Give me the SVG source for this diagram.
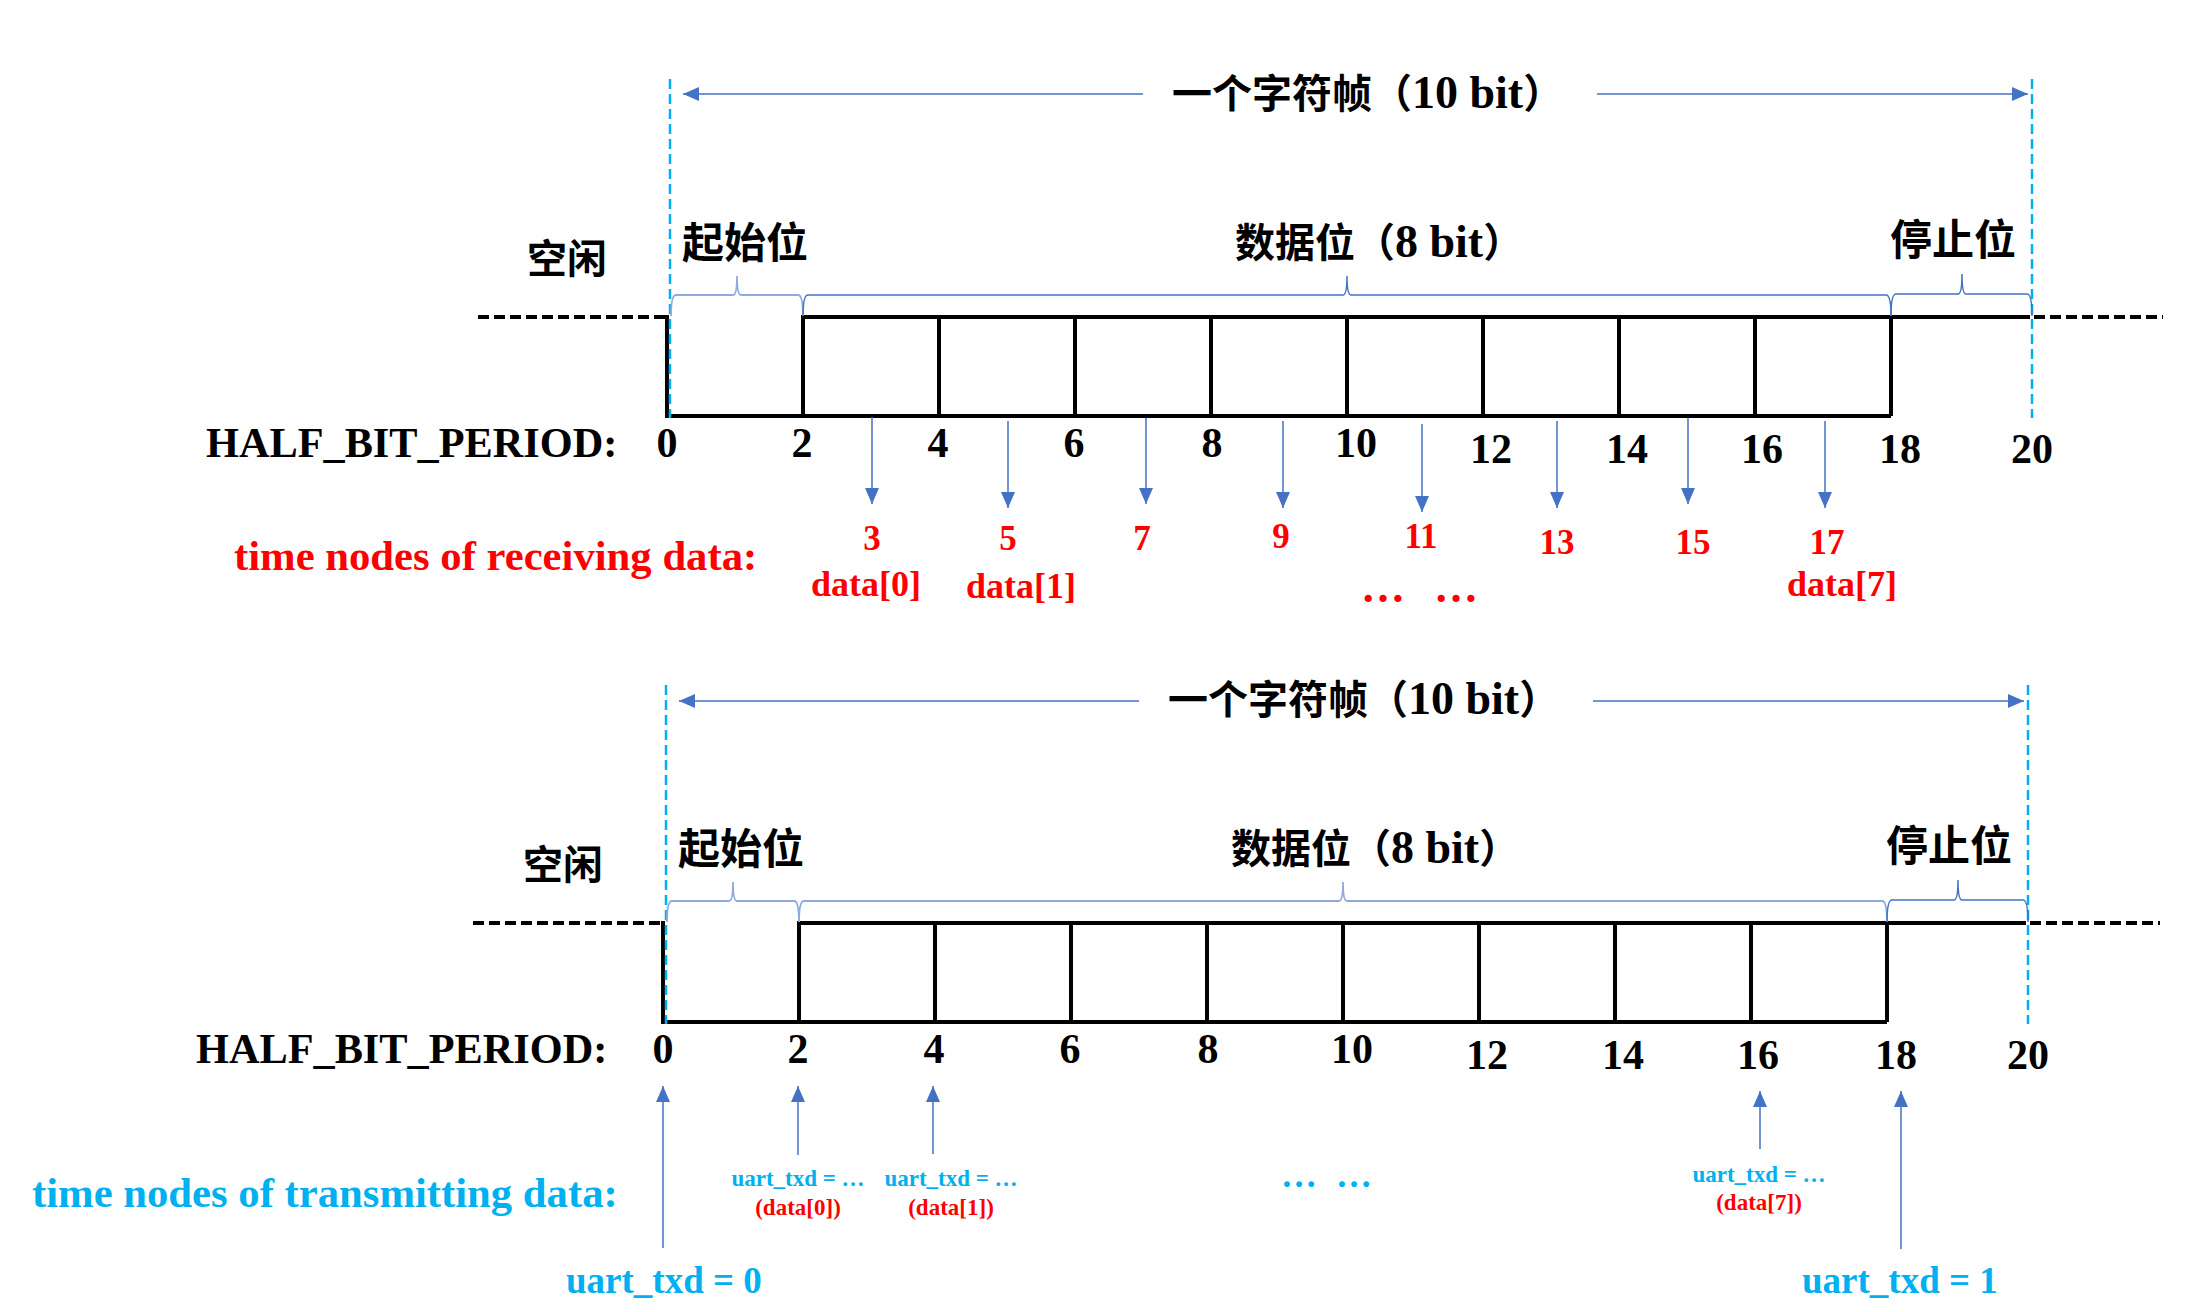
<svg xmlns="http://www.w3.org/2000/svg" width="2188" height="1312" viewBox="0 0 2188 1312">
<style>
  text { font-family: "Liberation Serif", "Noto Sans CJK SC", serif; font-weight: bold; }
  .blk { fill: #000; }
  .cjk { font-size: 40px; }
  .title { font-size: 40px; }
  .lat { font-size: 46px; }
  .num { font-size: 42px; text-anchor: middle; }
  .half { font-size: 42.3px; }
  .red { fill: #ff0000; }
  .cy { fill: #00b0f0; }
  .rxn { font-size: 35px; text-anchor: middle; }
  .rxd { font-size: 36px; text-anchor: middle; }
  .sm { font-size: 23px; text-anchor: middle; }
  .big { font-size: 37px; }
  .head { font-size: 42.7px; }
  .guide { stroke: #00b0f0; stroke-width: 2.5; stroke-dasharray: 10 5; fill: none; }
  .arr { stroke: #4472c4; stroke-width: 1.5; fill: none; }
  .brace { stroke: #4472c4; stroke-width: 1.5; fill: none; }
  .brace-l { stroke: #8faadc; stroke-width: 1.8; fill: none; }
  .wave { stroke: #000; stroke-width: 4; fill: none; }
  .idle { stroke: #000; stroke-width: 4; fill: none; stroke-dasharray: 11 5; }
</style>
<defs>
  <marker id="ah" viewBox="0 0 16 14" refX="16" refY="7" markerWidth="16" markerHeight="14" markerUnits="userSpaceOnUse" orient="auto">
    <path d="M0,0 L16,7 L0,14 z" fill="#4472c4"/>
  </marker>
</defs>
<rect width="2188" height="1312" fill="#fff"/>

<!-- ===== Top frame: receiving ===== -->
<g id="frame-top">
  <g id="top-waveform">
    <line class="idle" x1="478" y1="317" x2="665" y2="317"/>
    <path class="wave" d="M667,315 L667,416 L1891,416 M803,416 L803,317 L2030,317"/>
    <path class="wave" d="M939,317 V416 M1075,317 V416 M1211,317 V416 M1347,317 V416 M1483,317 V416 M1619,317 V416 M1755,317 V416 M1891,317 V416"/>
    <line class="idle" x1="2034" y1="317" x2="2163" y2="317"/>
  </g>
  <g id="top-guides">
    <line class="guide" x1="670" y1="79" x2="670" y2="418"/>
    <line class="guide" x1="2032" y1="79" x2="2032" y2="418"/>
  </g>
  <g id="top-frame-arrow">
    <line class="arr" x1="1143" y1="94" x2="683" y2="94" marker-end="url(#ah)"/>
    <line class="arr" x1="1597" y1="94" x2="2028" y2="94" marker-end="url(#ah)"/>
    <text class="title blk" x="1172" y="108">一个字符帧（<tspan class="lat">10 bit</tspan>）</text>
  </g>
  <g id="top-fields">
    <text class="cjk blk" x="527" y="273">空闲</text>
    <text class="cjk blk" x="682" y="258" style="font-size:42px">起始位</text>
    <text class="cjk blk" x="1235" y="257">数据位（<tspan class="lat">8 bit</tspan>）</text>
    <text class="cjk blk" x="1890" y="255" style="font-size:42px">停止位</text>
    <path class="brace-l" d="M671,316 Q671,295 676,295 L733,295 Q737,295 737,276 Q737,295 741,295 L798,295 Q803,295 803,316"/>
    <path class="brace" d="M803,316 Q803,295 808,295 L1343,295 Q1347,295 1347,276 Q1347,295 1351,295 L1886,295 Q1891,295 1891,316"/>
    <path class="brace" d="M1891,316 Q1891,294 1896,294 L1958,294 Q1962,294 1962,274 Q1962,294 1966,294 L2027,294 Q2032,294 2032,316"/>
  </g>
  <g id="top-ticks">
    <text class="half blk" x="206" y="457">HALF_BIT_PERIOD:</text>
    <text class="num blk" x="667" y="457">0</text>
    <text class="num blk" x="802" y="457">2</text>
    <text class="num blk" x="938" y="457">4</text>
    <text class="num blk" x="1074" y="457">6</text>
    <text class="num blk" x="1212" y="457">8</text>
    <text class="num blk" x="1356" y="457">10</text>
    <text class="num blk" x="1491" y="463">12</text>
    <text class="num blk" x="1627" y="463">14</text>
    <text class="num blk" x="1762" y="463">16</text>
    <text class="num blk" x="1900" y="463">18</text>
    <text class="num blk" x="2032" y="463">20</text>
  </g>
</g>

<g id="rx-arrows">
  <line class="arr" x1="872" y1="417" x2="872" y2="504" marker-end="url(#ah)"/>
  <line class="arr" x1="1008" y1="421" x2="1008" y2="508" marker-end="url(#ah)"/>
  <line class="arr" x1="1146" y1="418" x2="1146" y2="504" marker-end="url(#ah)"/>
  <line class="arr" x1="1283" y1="421" x2="1283" y2="508" marker-end="url(#ah)"/>
  <line class="arr" x1="1422" y1="424" x2="1422" y2="512" marker-end="url(#ah)"/>
  <line class="arr" x1="1557" y1="421" x2="1557" y2="508" marker-end="url(#ah)"/>
  <line class="arr" x1="1688" y1="418" x2="1688" y2="504" marker-end="url(#ah)"/>
  <line class="arr" x1="1825" y1="421" x2="1825" y2="508" marker-end="url(#ah)"/>
</g>

<g id="rx-labels">
  <text class="head red" x="234" y="570">time nodes of receiving data:</text>
  <text class="rxn red" x="872" y="550">3</text>
  <text class="rxn red" x="1008" y="550">5</text>
  <text class="rxn red" x="1142" y="550">7</text>
  <text class="rxn red" x="1281" y="548">9</text>
  <text class="rxn red" x="1421" y="548">11</text>
  <text class="rxn red" x="1557" y="554">13</text>
  <text class="rxn red" x="1693" y="554">15</text>
  <text class="rxn red" x="1827" y="554">17</text>
  <text class="rxd red" x="866" y="596">data[0]</text>
  <text class="rxd red" x="1021" y="598">data[1]</text>
  <text class="rxd red" x="1842" y="596">data[7]</text>
  <text class="red" style="font-size:44px" y="602"><tspan x="1361">…</tspan><tspan x="1434">…</tspan></text>
</g>

<!-- ===== Bottom frame: transmitting ===== -->
<g id="frame-bottom" transform="translate(-4,606)">
  <g id="bottom-waveform">
    <line class="idle" x1="477" y1="317" x2="665" y2="317"/>
    <path class="wave" d="M667,315 L667,416 L1891,416 M803,416 L803,317 L2030,317"/>
    <path class="wave" d="M939,317 V416 M1075,317 V416 M1211,317 V416 M1347,317 V416 M1483,317 V416 M1619,317 V416 M1755,317 V416 M1891,317 V416"/>
    <line class="idle" x1="2034" y1="317" x2="2164" y2="317"/>
  </g>
  <g id="bottom-guides">
    <line class="guide" x1="670" y1="79" x2="670" y2="418"/>
    <line class="guide" x1="2032" y1="79" x2="2032" y2="418"/>
  </g>
  <g id="bottom-frame-arrow">
    <line class="arr" x1="1143" y1="95" x2="683" y2="95" marker-end="url(#ah)"/>
    <line class="arr" x1="1597" y1="95" x2="2028" y2="95" marker-end="url(#ah)"/>
    <text class="title blk" x="1172" y="108">一个字符帧（<tspan class="lat">10 bit</tspan>）</text>
  </g>
  <g id="bottom-fields">
    <text class="cjk blk" x="527" y="273">空闲</text>
    <text class="cjk blk" x="682" y="258" style="font-size:42px">起始位</text>
    <text class="cjk blk" x="1235" y="257">数据位（<tspan class="lat">8 bit</tspan>）</text>
    <text class="cjk blk" x="1890" y="255" style="font-size:42px">停止位</text>
    <path class="brace-l" d="M671,316 Q671,295 676,295 L733,295 Q737,295 737,276 Q737,295 741,295 L798,295 Q803,295 803,316"/>
    <path class="brace-l" d="M803,316 Q803,295 808,295 L1343,295 Q1347,295 1347,276 Q1347,295 1351,295 L1886,295 Q1891,295 1891,316"/>
    <path class="brace" d="M1891,316 Q1891,294 1896,294 L1958,294 Q1962,294 1962,274 Q1962,294 1966,294 L2027,294 Q2032,294 2032,316"/>
  </g>
  <g id="bottom-ticks">
    <text class="num blk" x="667" y="457">0</text>
    <text class="num blk" x="802" y="457">2</text>
    <text class="num blk" x="938" y="457">4</text>
    <text class="num blk" x="1074" y="457">6</text>
    <text class="num blk" x="1212" y="457">8</text>
    <text class="num blk" x="1356" y="457">10</text>
    <text class="num blk" x="1491" y="463">12</text>
    <text class="num blk" x="1627" y="463">14</text>
    <text class="num blk" x="1762" y="463">16</text>
    <text class="num blk" x="1900" y="463">18</text>
    <text class="num blk" x="2032" y="463">20</text>
  </g>
</g>
<text id="bottom-half" class="half blk" x="196" y="1063">HALF_BIT_PERIOD:</text>

<g id="tx-arrows">
  <line class="arr" x1="663" y1="1248" x2="663" y2="1086" marker-end="url(#ah)"/>
  <line class="arr" x1="798" y1="1155" x2="798" y2="1086" marker-end="url(#ah)"/>
  <line class="arr" x1="933" y1="1154" x2="933" y2="1086" marker-end="url(#ah)"/>
  <line class="arr" x1="1760" y1="1149" x2="1760" y2="1091" marker-end="url(#ah)"/>
  <line class="arr" x1="1901" y1="1249" x2="1901" y2="1091" marker-end="url(#ah)"/>
</g>

<g id="tx-labels">
  <text class="head cy" x="32" y="1207">time nodes of transmitting data:</text>
  <text class="sm cy" x="798" y="1186">uart_txd = …</text>
  <text class="sm red" x="798" y="1215">(data[0])</text>
  <text class="sm cy" x="951" y="1186">uart_txd = …</text>
  <text class="sm red" x="951" y="1215">(data[1])</text>
  <text class="sm cy" x="1759" y="1182">uart_txd = …</text>
  <text class="sm red" x="1759" y="1210">(data[7])</text>
  <text class="cy" style="font-size:36px" y="1187"><tspan x="1281">…</tspan><tspan x="1336">…</tspan></text>
  <text class="big cy" x="566" y="1293">uart_txd = 0</text>
  <text class="big cy" x="1802" y="1293">uart_txd = 1</text>
</g>
</svg>
